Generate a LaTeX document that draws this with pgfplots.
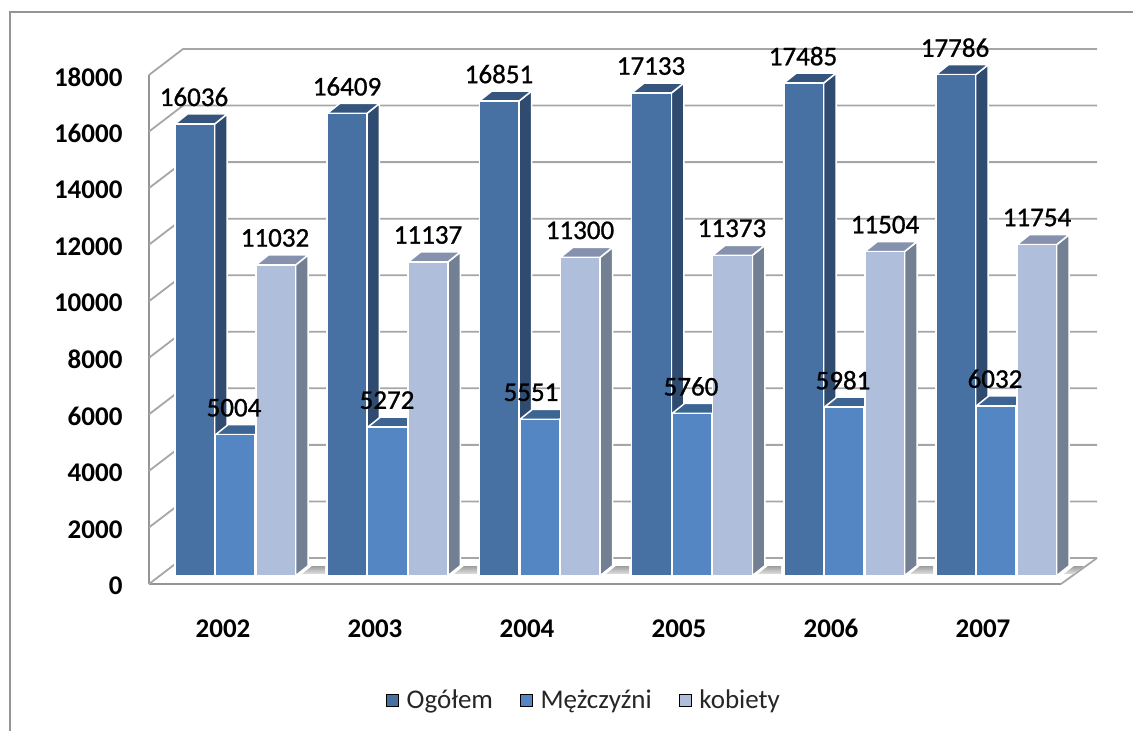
\documentclass[border=0pt]{standalone}
\usepackage{pgfplots}
\pgfplotsset{compat=1.18}
\usepackage{fontspec}
\setmainfont{Carlito}
\newfontfamily\medfont[FakeBold=1]{Carlito}
\definecolor{gridc}{HTML}{A6A6A6}
\definecolor{frameC}{HTML}{959595}
\definecolor{aF}{HTML}{4770A3}
\definecolor{aS}{HTML}{2F4B6F}
\definecolor{aT}{HTML}{35547E}
\definecolor{bF}{HTML}{5386C2}
\definecolor{bS}{HTML}{3A5E8C}
\definecolor{bT}{HTML}{3D6594}
\definecolor{cF}{HTML}{AFBFDB}
\definecolor{cS}{HTML}{737F93}
\definecolor{cT}{HTML}{8692AD}
% one 3-D column: left x, value, colour prefix
\newcommand\cube[3]{%
  \pgfmathsetmacro\xa{#1}%
  \pgfmathsetmacro\xb{#1+39.7}%
  \pgfmathsetmacro\xc{#1+39.7+12.5}%
  \pgfmathsetmacro\xd{#1+12.5}%
  \edef\vb{\the\numexpr#2+355\relax}%
  \addplot[forget plot,draw=white,line width=1.5pt,line join=round,fill=#3S] coordinates {(\xb,0) (\xb,#2) (\xc,\vb) (\xc,355)} --cycle;
  \addplot[forget plot,draw=white,line width=1.5pt,line join=round,fill=#3T] coordinates {(\xa,#2) (\xb,#2) (\xc,\vb) (\xd,\vb)} --cycle;
  \addplot[forget plot,draw=white,line width=1.5pt,line join=round,fill=#3F] coordinates {(\xa,0) (\xb,0) (\xb,#2) (\xa,#2)} --cycle;
}
\newcommand\shadow[4]{%
  \addplot[forget plot,draw=none,top color=black!38,bottom color=black!12] coordinates {(#1,354) (#2,636) (#3,636) (#4,354)} --cycle;
}
\begin{document}
\begin{tikzpicture}[x=1pt,y=1pt]
\path[use as bounding box] (0,0) rectangle (1133,731);
\draw[frameC,line width=1.8pt] (10.3,0) -- (10.3,718.7) -- (1133,718.7);
\begin{axis}[
  at={(149pt,147pt)},anchor=south west,
  scale only axis,width=912pt,height=509pt,
  xmin=149,xmax=1061,ymin=0,ymax=18000,clip=false,
  axis x line*=bottom,axis y line*=left,
  axis line style={-,draw=frameC,line width=1.8pt},
  tick style={draw=none},
  scaled y ticks=false,
  ytick={0,2000,4000,6000,8000,10000,12000,14000,16000,18000},
  xtick={225,377,529,681,833,985},
  xticklabels={2002,2003,2004,2005,2006,2007},
  /pgf/number format/1000 sep={},
  /pgf/number format/assume math mode=true,
  yticklabel style={font=\fontsize{27}{27}\selectfont\bfseries,xshift=-23pt,yshift=-2pt},
  xticklabel style={font=\fontsize{27}{27}\selectfont\bfseries,yshift=-32pt,xshift=-2pt},
  legend columns=3,
  legend style={draw=none,fill=none,at={(0.477,-0.228)},anchor=center,
    font=\fontsize{27}{27}\selectfont,text=black!85,
    /tikz/every even column/.style={column sep=25pt},
    /tikz/every odd column/.style={column sep=6pt}},
  legend cell align=left,
]
\addlegendimage{only marks,mark=square*,mark size=6.3pt,mark options={draw=none,fill=aF}}
\addlegendentry{Ogółem}
\addlegendimage{only marks,mark=square*,mark size=6.3pt,mark options={draw=none,fill=bF}}
\addlegendentry{Mężczyźni}
\addlegendimage{only marks,mark=square*,mark size=6.3pt,mark options={draw=none,fill=cF}}
\addlegendentry{kobiety}
\pgfplotsinvokeforeach{0,2000,4000,6000,8000,10000,12000,14000,16000,18000}{
  \addplot[forget plot,gridc,line width=1.8pt] coordinates {(149,#1) (183,\the\numexpr#1+919\relax) (1097,\the\numexpr#1+919\relax)};
}
\addplot[forget plot,gridc,line width=1.8pt] coordinates {(1061,0) (1097,919)};
\shadow{302}{312}{325}{325}
\shadow{454}{464}{477}{477}
\shadow{606}{616}{629}{629}
\shadow{758}{768}{781}{781}
\shadow{910}{920}{933}{933}
\shadow{1064}{1074}{1084}{1074}
\end{axis}
\begin{axis}[
  at={(149pt,155.3pt)},anchor=south west,
  scale only axis,width=912pt,height=507.06pt,
  xmin=149,xmax=1061,ymin=0,ymax=18000,clip=false,hide axis,
  scaled y ticks=false,
  /pgf/number format/1000 sep={},
  /pgf/number format/assume math mode=true,
  every node near coord/.append style={anchor=center,yshift=27pt,font=\fontsize{27}{27}\medfont,text=black},
]
\cube{175.0}{16036}{a}\cube{215.5}{5004}{b}\cube{256.0}{11032}{c}
\cube{327.2}{16409}{a}\cube{367.7}{5272}{b}\cube{408.2}{11137}{c}
\cube{479.4}{16851}{a}\cube{519.9}{5551}{b}\cube{560.4}{11300}{c}
\cube{631.6}{17133}{a}\cube{672.1}{5760}{b}\cube{712.6}{11373}{c}
\cube{783.8}{17485}{a}\cube{824.3}{5981}{b}\cube{864.8}{11504}{c}
\cube{936.0}{17786}{a}\cube{976.5}{6032}{b}\cube{1017.0}{11754}{c}
\addplot[forget plot,draw=none,mark=none,nodes near coords,point meta=y] table {
x y
194 16036
347 16409
499 16851
651 17133
803 17485
955 17786
234 5004
387 5272
531 5551
691 5760
843 5981
995 6032
275 11032
428 11137
580 11300
732 11373
885 11504
1037 11754
};
\end{axis}
\end{tikzpicture}
\end{document}
